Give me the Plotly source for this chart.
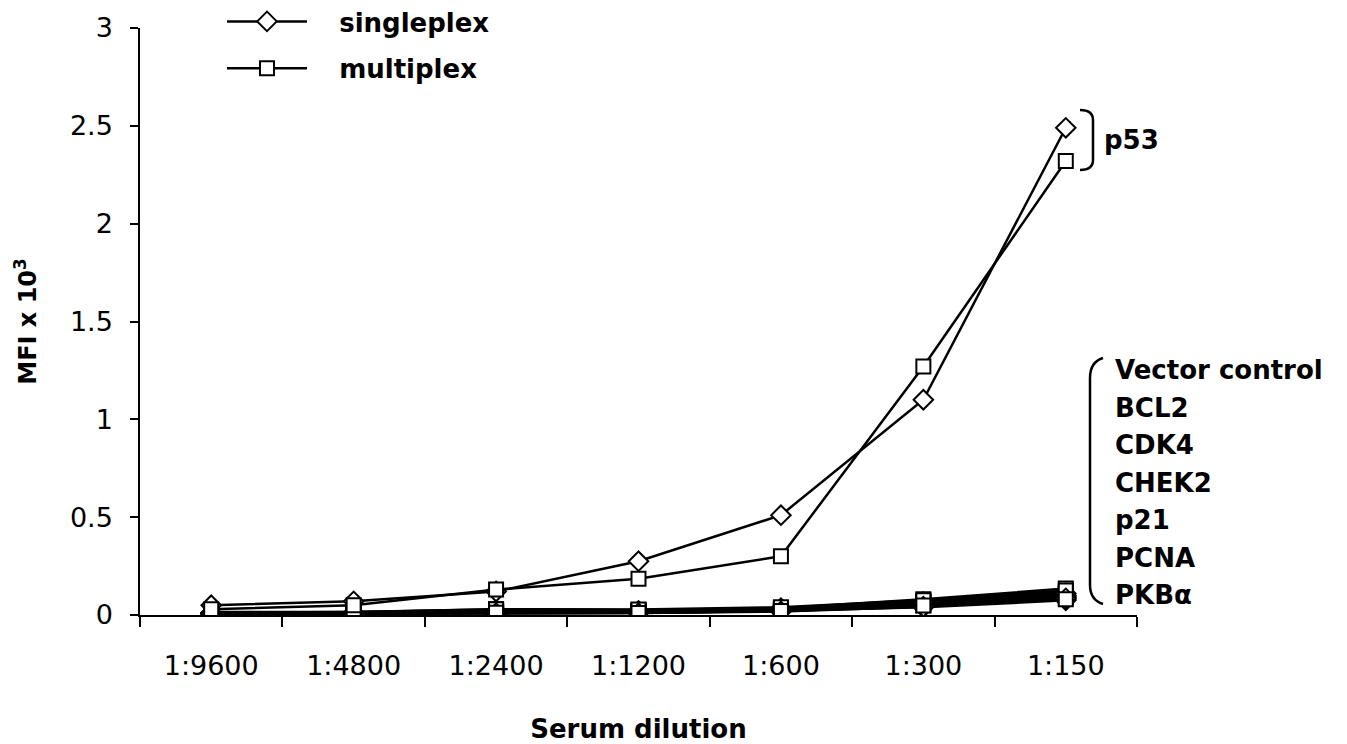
import plotly.graph_objects as go

dilutions = ["1:9600", "1:4800", "1:2400", "1:1200", "1:600", "1:300", "1:150"]

p53_single = [0.05, 0.07, 0.12, 0.275, 0.51, 1.10, 2.49]
p53_multi = [0.03, 0.05, 0.13, 0.185, 0.30, 1.27, 2.32]

antigens = ["Vector control", "BCL2", "CDK4", "CHEK2", "p21", "PCNA", "PKBα"]
low_single = {
    "Vector control": [0.010, 0.010, 0.015, 0.015, 0.025, 0.050, 0.090],
    "BCL2":           [0.005, 0.008, 0.012, 0.012, 0.020, 0.045, 0.080],
    "CDK4":           [0.008, 0.010, 0.020, 0.018, 0.030, 0.060, 0.100],
    "CHEK2":          [0.012, 0.012, 0.018, 0.020, 0.028, 0.055, 0.095],
    "p21":            [0.006, 0.007, 0.010, 0.012, 0.022, 0.040, 0.075],
    "PCNA":           [0.010, 0.012, 0.022, 0.020, 0.035, 0.065, 0.110],
    "PKBα":           [0.004, 0.006, 0.010, 0.010, 0.018, 0.042, 0.085],
}
low_multi = {
    "Vector control": [0.015, 0.015, 0.025, 0.020, 0.030, 0.070, 0.120],
    "BCL2":           [0.010, 0.010, 0.015, 0.015, 0.025, 0.060, 0.100],
    "CDK4":           [0.012, 0.014, 0.030, 0.025, 0.035, 0.080, 0.135],
    "CHEK2":          [0.008, 0.010, 0.020, 0.018, 0.030, 0.065, 0.110],
    "p21":            [0.006, 0.008, 0.012, 0.012, 0.022, 0.050, 0.090],
    "PCNA":           [0.012, 0.015, 0.030, 0.028, 0.040, 0.075, 0.125],
    "PKBα":           [0.005, 0.008, 0.012, 0.010, 0.020, 0.048, 0.080],
}

FONT = "DejaVu Sans"
W, H = 1347, 744
OFF = 8  # page body margin
L, R, T, B = 140, 1137, 28, 615  # plot area in screen pixels

def px(x):
    return (x - L) / (R - L)

def py(y):
    return (B - y) / (B - T)

fig = go.Figure()

mk_single = dict(symbol="diamond", size=15, color="white", line=dict(color="black", width=2))
mk_multi = dict(symbol="square", size=14, color="white", line=dict(color="black", width=2))

for a in antigens:
    fig.add_trace(go.Scatter(x=dilutions, y=low_single[a], mode="lines+markers",
                             line=dict(color="black", width=2.5), marker=mk_single,
                             showlegend=False, name=a + " singleplex"))
    fig.add_trace(go.Scatter(x=dilutions, y=low_multi[a], mode="lines+markers",
                             line=dict(color="black", width=2.5), marker=mk_multi,
                             showlegend=False, name=a + " multiplex"))

fig.add_trace(go.Scatter(x=dilutions, y=p53_single, mode="lines+markers",
                         line=dict(color="black", width=2.5), marker=mk_single,
                         name="\u00a0\u00a0\u00a0singleplex", legendgroup="s"))
fig.add_trace(go.Scatter(x=dilutions, y=p53_multi, mode="lines+markers",
                         line=dict(color="black", width=2.5), marker=mk_multi,
                         name="\u00a0\u00a0\u00a0multiplex", legendgroup="m"))

shapes = [
    # p53 bracket
    dict(type="path", xref="paper", yref="paper",
         path=f"M {px(1080)},{py(110)} Q {px(1093)},{py(110)} {px(1093)},{py(120)} "
              f"L {px(1093)},{py(160)} Q {px(1093)},{py(170)} {px(1080)},{py(170)}",
         line=dict(color="black", width=2.5)),
    # gene list brace
    dict(type="path", xref="paper", yref="paper",
         path=f"M {px(1103)},{py(358)} Q {px(1090)},{py(362)} {px(1090)},{py(378)} "
              f"L {px(1090)},{py(585)} Q {px(1090)},{py(600)} {px(1103)},{py(604)}",
         line=dict(color="black", width=2.5)),
]

annotations = [dict(text="<b>p53</b>", x=px(1102), y=py(140), xref="paper", yref="paper",
                    xanchor="left", yanchor="middle", showarrow=False,
                    font=dict(family=FONT, size=26, color="black"))]
for i, a in enumerate(antigens):
    annotations.append(dict(text=f"<b>{a}</b>", x=px(1113), y=py(370 + i * 37.5),
                            xref="paper", yref="paper", xanchor="left", yanchor="middle",
                            showarrow=False, font=dict(family=FONT, size=26, color="black")))

fig.update_layout(
    width=W - OFF, height=H - OFF,
    margin=dict(l=L - OFF, r=W - R, t=T - OFF, b=H - B, autoexpand=False),
    paper_bgcolor="white", plot_bgcolor="white",
    font=dict(family=FONT, color="black"),
    showlegend=True,
    legend=dict(x=px(222), y=py(-2), xanchor="left", yanchor="top",
                bgcolor="rgba(0,0,0,0)", itemwidth=80, tracegroupgap=10,
                traceorder="grouped",
                font=dict(family=FONT, size=26, color="black", weight="bold")),
    xaxis=dict(type="category", range=[-0.5, 6.5], showgrid=False, zeroline=False,
               showline=True, linecolor="black", linewidth=1.5,
               ticks="outside", tickson="boundaries", ticklen=10, tickwidth=1.5,
               tickcolor="black", ticklabelstandoff=26,
               tickfont=dict(family=FONT, size=27, color="black"),
               title=dict(text="<b>Serum dilution</b>", standoff=44,
                          font=dict(family=FONT, size=26, color="black"))),
    yaxis=dict(range=[0, 3], dtick=0.5, showgrid=False, zeroline=False,
               showline=True, linecolor="black", linewidth=1.5,
               ticks="outside", ticklen=8, tickwidth=1.5, tickcolor="black",
               ticklabelstandoff=12,
               tickfont=dict(family=FONT, size=27, color="black"),
               title=dict(text="<b>MFI x 10<sup>3</sup></b>", standoff=26,
                          font=dict(family=FONT, size=24, color="black"))),
    shapes=shapes,
    annotations=annotations,
)

fig.write_html("out.html")
